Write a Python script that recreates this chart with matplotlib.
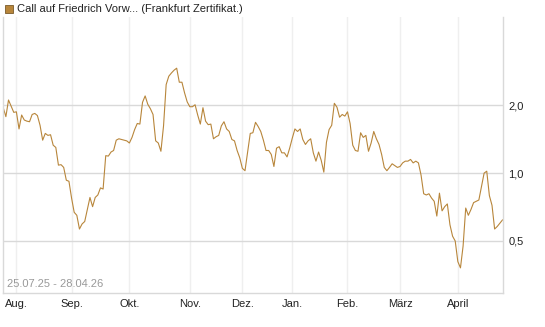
import numpy as np
import pandas as pd
import matplotlib
matplotlib.use('Agg')
import matplotlib.pyplot as plt
from matplotlib.patches import Rectangle

plt.rcParams['font.family'] = ['Liberation Sans', 'DejaVu Sans']

# trading days (Frankfurt) from 25.07.25 to 28.04.26
holidays = ['2025-12-24', '2025-12-25', '2025-12-26', '2025-12-31',
            '2026-01-01', '2026-04-03', '2026-04-06']
dates = pd.bdate_range('2025-07-25', '2026-04-28')
dates = dates[~dates.isin(pd.to_datetime(holidays))]

# closing prices
prices = [
    1.95, 1.78, 2.11, 1.98, 1.86, 1.87, 1.57, 1.81, 1.72, 1.70,
    1.69, 1.82, 1.84, 1.80, 1.63, 1.40, 1.50, 1.47, 1.48, 1.33,
    1.30, 1.085, 1.09, 1.06, 0.93, 0.92, 0.775, 0.67, 0.65, 0.565,
    0.595, 0.61, 0.69, 0.78, 0.71, 0.78, 0.80, 0.86, 0.85, 1.195,
    1.19, 1.24, 1.26, 1.40, 1.42, 1.41, 1.40, 1.39, 1.36, 1.44,
    1.56, 1.66, 1.65, 2.06, 2.20, 2.02, 1.93, 1.82, 1.39, 1.36,
    1.25, 1.62, 2.47, 2.69, 2.78, 2.86, 2.92, 2.53, 2.53, 2.27,
    2.07, 1.97, 1.97, 2.01, 1.81, 1.65, 1.95, 1.70, 1.64, 1.65,
    1.42, 1.45, 1.47, 1.62, 1.69, 1.57, 1.53, 1.41, 1.39, 1.26,
    1.17, 1.05, 1.025, 1.24, 1.50, 1.51, 1.68, 1.61, 1.53, 1.40,
    1.26, 1.26, 1.21, 1.07, 1.29, 1.31, 1.23, 1.23, 1.18, 1.29,
    1.43, 1.57, 1.53, 1.57, 1.41, 1.34, 1.39, 1.42, 1.23, 1.13,
    1.24, 1.14, 1.01, 1.37, 1.56, 1.63, 2.04, 1.96, 1.77, 1.82,
    1.79, 1.87, 1.66, 1.33, 1.26, 1.25, 1.51, 1.44, 1.47, 1.25,
    1.36, 1.53, 1.42, 1.34, 1.21, 1.06, 1.025, 1.06, 1.10, 1.08,
    1.06, 1.07, 1.11, 1.13, 1.13, 1.15, 1.11, 1.13, 1.11, 0.98,
    0.81, 0.80, 0.81, 0.775, 0.75, 0.645, 0.815, 0.68, 0.71, 0.73,
    0.59, 0.525, 0.50, 0.405, 0.38, 0.475, 0.70, 0.65, 0.69, 0.74,
    0.75, 0.76, 0.87, 1.00, 1.02, 0.795, 0.72, 0.565, 0.58, 0.60,
    0.62,
]

month_labels = ['Aug.', 'Sep.', 'Okt.', 'Nov.', 'Dez.', 'Jan.', 'Feb.', 'März', 'April']
y_ticks = [0.5, 1.0, 2.0]
y_labels = ['0,5', '1,0', '2,0']

line_color = '#b8863b'
grid_h = '#d9d9d9'
grid_v = '#efefef'

x = np.arange(len(prices))
months = dates.to_period('M')
month_starts = [i for i in range(1, len(dates)) if months[i] != months[i - 1]]

fig = plt.figure(figsize=(5.45, 3.27), dpi=100)
ax = fig.add_axes([0.005, 0.104, 0.918, 0.8425])

ax.plot(x, prices, color=line_color, linewidth=0.8)

ax.set_yscale('log')
ax.set_ylim(0.294, 4.9)
ax.set_xlim(-0.2, len(prices) - 0.8)

ax.set_yticks(y_ticks)
ax.set_yticklabels(y_labels)
ax.yaxis.set_minor_locator(matplotlib.ticker.NullLocator())
ax.yaxis.tick_right()
ax.set_xticks(month_starts)
ax.set_xticklabels(month_labels)

ax.tick_params(axis='both', length=0, labelsize=8, colors='#222222')
ax.tick_params(axis='y', pad=4)
ax.tick_params(axis='x', pad=4)

ax.grid(True, axis='y', color=grid_h, linewidth=1)
ax.grid(True, axis='x', color=grid_v, linewidth=1)
ax.set_axisbelow(True)

for s in ['left', 'bottom', 'right']:
    ax.spines[s].set_color(grid_h)
    ax.spines[s].set_linewidth(1)
ax.spines['top'].set_visible(False)

ax.text(0.008, 0.015, '25.07.25 - 28.04.26', transform=ax.transAxes,
        fontsize=8, color='#999999', ha='left', va='bottom')

# legend at top
fig.patches.append(Rectangle((5 / 545, 1 - 13 / 327), 8 / 545, 8 / 327,
                             transform=fig.transFigure, facecolor=line_color,
                             edgecolor='#7a5a2a', linewidth=0.6))
fig.text(17 / 545, 1 - 9 / 327, 'Call auf Friedrich Vorw... (Frankfurt Zertifikat.)',
         fontsize=8, color='#222222', ha='left', va='center')

fig.savefig('out.png', dpi=100)
